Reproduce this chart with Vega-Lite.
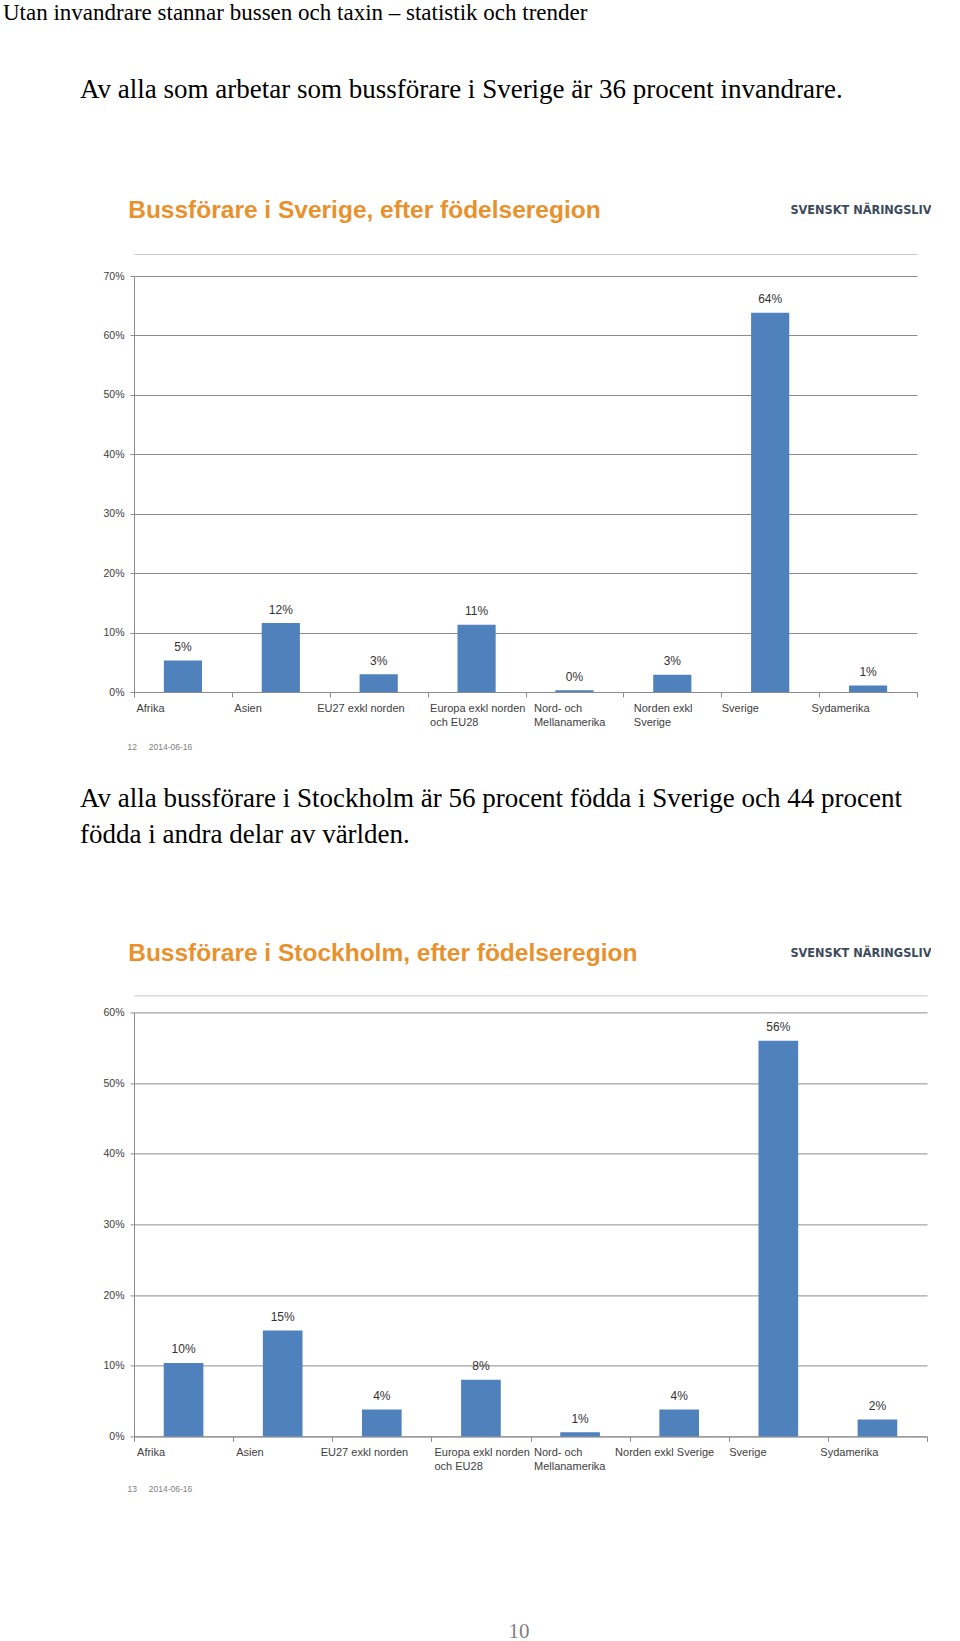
{
  "$schema": "https://vega.github.io/schema/vega-lite/v6.json",
  "background": "white",
  "padding": {"left": 3, "top": 2, "right": 0, "bottom": 0},
  "title": {
    "text": "Utan invandrare stannar bussen och taxin – statistik och trender",
    "anchor": "start", "frame": "bounds", "dx": -77, "offset": 50.2,
    "font": "Liberation Serif", "fontSize": 23, "fontWeight": "normal", "color": "#000000"
  },
  "spacing": 33.4,
  "vconcat": [
    {
      "width": 783, "height": 416,
      "title": {
        "text": "Av alla som arbetar som bussförare i Sverige är 36 procent invandrare.",
        "anchor": "start", "frame": "group", "dx": -54, "offset": 93.5,
        "font": "Liberation Serif", "fontSize": 27, "fontWeight": "normal", "color": "#000000"
      },
      "data": {"values": [
        {"region": "Afrika", "share": 0.053},
        {"region": "Asien", "share": 0.116},
        {"region": "EU27 exkl norden", "share": 0.030},
        {"region": "Europa exkl norden och EU28", "share": 0.113},
        {"region": "Nord- och Mellanamerika", "share": 0.003},
        {"region": "Norden exkl Sverige", "share": 0.029},
        {"region": "Sverige", "share": 0.638},
        {"region": "Sydamerika", "share": 0.011}
      ]},
      "resolve": {"axis": {"x": "independent", "y": "independent"}},
      "layer": [
        {
          "mark": {"type": "bar", "color": "#4F81BD", "width": {"band": 0.39}},
          "encoding": {
            "x": {
              "field": "region", "type": "nominal", "sort": null,
              "scale": {"paddingInner": 0, "paddingOuter": 0},
              "axis": {
                "orient": "bottom",
                "title": "12\u00a0\u00a0\u00a0\u00a0\u00a02014-06-16",
                "titleX": -7, "titleY": 54.5, "titleAlign": "left", "titleBaseline": "middle",
                "titleFont": "Liberation Sans", "titleFontSize": 8.5, "titleFontWeight": "normal", "titleColor": "#808080",
                "labelAngle": 0, "labelAlign": "left", "labelBaseline": "top",
                "labelOffset": {"condition": [
                  {"test": "datum.label == 'EU27 exkl norden'", "value": -62},
                  {"test": "datum.label == 'Nord- och Mellanamerika'", "value": -41},
                  {"test": "datum.label == 'Norden exkl Sverige'", "value": -39},
                  {"test": "datum.label == 'Sverige'", "value": -49},
                  {"test": "datum.label == 'Sydamerika'", "value": -57}
                ], "value": -47},
                "labelPadding": 5, "tickSize": 5, "tickBand": "extent", "labelFontSize": 11,
                "labelLineHeight": 14, "labelOverlap": false, "labelLimit": 0, "grid": false,
                "labelExpr": "datum.label == 'Europa exkl norden och EU28' ? ['Europa exkl norden', 'och EU28'] : datum.label == 'Nord- och Mellanamerika' ? ['Nord- och', 'Mellanamerika'] : datum.label == 'Norden exkl Sverige' ? ['Norden exkl', 'Sverige'] : datum.label"
              }
            },
            "y": {
              "field": "share", "type": "quantitative",
              "scale": {"domain": [0, 0.7], "nice": false},
              "axis": {"values": [0, 0.1, 0.2, 0.3, 0.4, 0.5, 0.6, 0.7], "format": ".0%", "title": null,
                       "grid": true, "tickSize": 4, "labelPadding": 6, "labelFontSize": 10.5}
            }
          }
        },
        {
          "mark": {"type": "text", "dy": -9.5, "baseline": "alphabetic", "font": "Liberation Sans", "fontSize": 12, "color": "#333333"},
          "encoding": {
            "x": {
              "field": "region", "type": "nominal", "sort": null,
              "axis": {
                "orient": "top", "offset": 22, "labels": false, "ticks": false, "grid": false,
                "domainColor": "#c8c8c8",
                "title": "SVENSKT NÄRINGSLIV", "titleX": 797, "titleY": -45,
                "titleAlign": "right", "titleBaseline": "middle",
                "titleFont": "'Liberation Sans Narrow', 'DejaVu Sans Condensed', 'Liberation Sans'",
                "titleFontSize": 12.6, "titleFontWeight": "bold", "titleColor": "#3d4a5c"
              }
            },
            "y": {
              "field": "share", "type": "quantitative",
              "axis": {
                "orient": "right", "labels": false, "ticks": false, "domain": false, "grid": false,
                "title": "Bussförare i Sverige, efter födelseregion",
                "titleAngle": 0, "titleX": -789.3, "titleY": -66,
                "titleAlign": "left", "titleBaseline": "middle",
                "titleFont": "Liberation Sans", "titleFontSize": 24.5, "titleFontWeight": "bold", "titleColor": "#E8912D"
              }
            },
            "text": {"field": "share", "type": "quantitative", "format": ".0%"}
          }
        }
      ]
    },
    {
      "width": 793, "height": 424,
      "title": {
        "text": ["Av alla bussförare i Stockholm är 56 procent födda i Sverige och 44 procent", "födda i andra delar av världen."],
        "anchor": "start", "frame": "group", "dx": -54, "offset": 92, "lineHeight": 35.6,
        "font": "Liberation Serif", "fontSize": 27, "fontWeight": "normal", "color": "#000000"
      },
      "data": {"values": [
        {"region": "Afrika", "share": 0.104},
        {"region": "Asien", "share": 0.150},
        {"region": "EU27 exkl norden", "share": 0.038},
        {"region": "Europa exkl norden och EU28", "share": 0.080},
        {"region": "Nord- och Mellanamerika", "share": 0.006},
        {"region": "Norden exkl Sverige", "share": 0.038},
        {"region": "Sverige", "share": 0.560},
        {"region": "Sydamerika", "share": 0.024}
      ]},
      "resolve": {"axis": {"x": "independent", "y": "independent"}},
      "layer": [
        {
          "mark": {"type": "bar", "color": "#4F81BD", "width": {"band": 0.4}},
          "encoding": {
            "x": {
              "field": "region", "type": "nominal", "sort": null,
              "scale": {"paddingInner": 0, "paddingOuter": 0},
              "axis": {
                "orient": "bottom",
                "title": "13\u00a0\u00a0\u00a0\u00a0\u00a02014-06-16",
                "titleX": -7, "titleY": 52.5, "titleAlign": "left", "titleBaseline": "middle",
                "titleFont": "Liberation Sans", "titleFontSize": 8.5, "titleFontWeight": "normal", "titleColor": "#808080",
                "labelAngle": 0, "labelAlign": "left", "labelBaseline": "top",
                "labelOffset": {"condition": [
                  {"test": "datum.label == 'EU27 exkl norden'", "value": -61.6},
                  {"test": "datum.label == 'Nord- och Mellanamerika'", "value": -46.6},
                  {"test": "datum.label == 'Norden exkl Sverige'", "value": -64.6},
                  {"test": "datum.label == 'Sverige'", "value": -49.6},
                  {"test": "datum.label == 'Sydamerika'", "value": -57.6}
                ], "value": -47},
                "labelPadding": 5, "tickSize": 5, "tickBand": "extent", "labelFontSize": 11,
                "labelLineHeight": 14, "labelOverlap": false, "labelLimit": 0, "grid": false,
                "labelExpr": "datum.label == 'Europa exkl norden och EU28' ? ['Europa exkl norden', 'och EU28'] : datum.label == 'Nord- och Mellanamerika' ? ['Nord- och', 'Mellanamerika'] : datum.label"
              }
            },
            "y": {
              "field": "share", "type": "quantitative",
              "scale": {"domain": [0, 0.6], "nice": false},
              "axis": {"values": [0, 0.1, 0.2, 0.3, 0.4, 0.5, 0.6], "format": ".0%", "title": null,
                       "grid": true, "tickSize": 4, "labelPadding": 6, "labelFontSize": 10.5}
            }
          }
        },
        {
          "mark": {"type": "text", "dy": -9.5, "baseline": "alphabetic", "font": "Liberation Sans", "fontSize": 12, "color": "#333333"},
          "encoding": {
            "x": {
              "field": "region", "type": "nominal", "sort": null,
              "axis": {
                "orient": "top", "offset": 17, "labels": false, "ticks": false, "grid": false,
                "domainColor": "#c8c8c8",
                "title": "SVENSKT NÄRINGSLIV", "titleX": 797, "titleY": -43,
                "titleAlign": "right", "titleBaseline": "middle",
                "titleFont": "'Liberation Sans Narrow', 'DejaVu Sans Condensed', 'Liberation Sans'",
                "titleFontSize": 12.6, "titleFontWeight": "bold", "titleColor": "#3d4a5c"
              }
            },
            "y": {
              "field": "share", "type": "quantitative",
              "axis": {
                "orient": "right", "labels": false, "ticks": false, "domain": false, "grid": false,
                "title": "Bussförare i Stockholm, efter födelseregion",
                "titleAngle": 0, "titleX": -799.3, "titleY": -58.7,
                "titleAlign": "left", "titleBaseline": "middle",
                "titleFont": "Liberation Sans", "titleFontSize": 24.5, "titleFontWeight": "bold", "titleColor": "#E8912D"
              }
            },
            "text": {"field": "share", "type": "quantitative", "format": ".0%"}
          }
        }
      ]
    },
    {
      "width": 770, "height": 10,
      "data": {"values": [{"page": "10"}]},
      "mark": {"type": "text", "font": "Liberation Serif", "fontSize": 21, "color": "#7f7f7f", "baseline": "alphabetic", "dy": 106},
      "encoding": {"text": {"field": "page", "type": "nominal"}}
    }
  ],
  "config": {
    "view": {"stroke": null},
    "axis": {
      "labelFont": "Liberation Sans", "labelColor": "#404040",
      "domainColor": "#8c8c8c", "tickColor": "#8c8c8c", "gridColor": "#8c8c8c",
      "domainWidth": 1, "tickWidth": 1, "gridWidth": 1
    }
  }
}
